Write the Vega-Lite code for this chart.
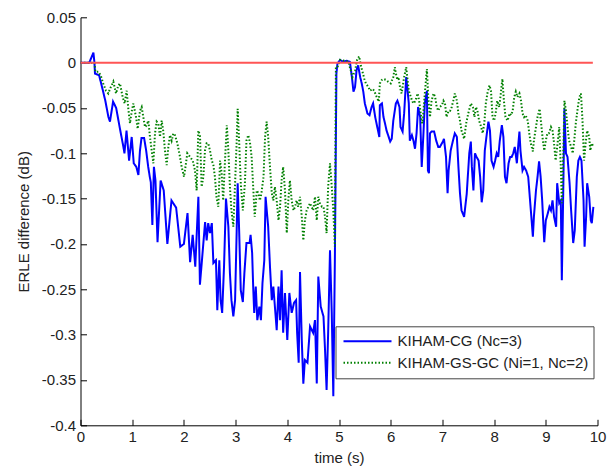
{
  "$schema": "https://vega.github.io/schema/vega-lite/v6.json",
  "width": 517,
  "height": 408,
  "autosize": "none",
  "padding": {"left": 80.5, "top": 17.3, "right": 11.5, "bottom": 42.7},
  "background": "white",
  "config": {
    "view": {"stroke": null},
    "font": "Liberation Sans",
    "axis": {
      "grid": false,
      "domainColor": "#000",
      "domainWidth": 1,
      "tickColor": "#000",
      "tickSize": -6,
      "labelFont": "Liberation Sans",
      "labelFontSize": 15,
      "labelColor": "#222",
      "titleFont": "Liberation Sans",
      "titleFontSize": 15,
      "titleFontWeight": "normal",
      "titleColor": "#222"
    }
  },
  "layer": [
    {
      "data": {"values": [
        {"t":0,"v":0,"s":"CG"},{"t":0.17,"v":0,"s":"CG"},{"t":0.25,"v":0.011,"s":"CG"},{"t":0.27,"v":0,"s":"CG"},{"t":0.28,"v":-0.012,"s":"CG"},{"t":0.36,"v":-0.014,"s":"CG"},{"t":0.43,"v":-0.03,"s":"CG"},{"t":0.48,"v":-0.042,"s":"CG"},{"t":0.54,"v":-0.06,"s":"CG"},{"t":0.57,"v":-0.065,"s":"CG"},{"t":0.63,"v":-0.043,"s":"CG"},{"t":0.69,"v":-0.05,"s":"CG"},{"t":0.76,"v":-0.072,"s":"CG"},{"t":0.83,"v":-0.093,"s":"CG"},{"t":0.85,"v":-0.1,"s":"CG"},{"t":0.89,"v":-0.075,"s":"CG"},{"t":0.94,"v":-0.108,"s":"CG"},{"t":0.99,"v":-0.082,"s":"CG"},{"t":1.03,"v":-0.111,"s":"CG"},{"t":1.08,"v":-0.115,"s":"CG"},{"t":1.12,"v":-0.124,"s":"CG"},{"t":1.15,"v":-0.097,"s":"CG"},{"t":1.18,"v":-0.083,"s":"CG"},{"t":1.23,"v":-0.083,"s":"CG"},{"t":1.27,"v":-0.097,"s":"CG"},{"t":1.31,"v":-0.115,"s":"CG"},{"t":1.34,"v":-0.126,"s":"CG"},{"t":1.36,"v":-0.132,"s":"CG"},{"t":1.39,"v":-0.179,"s":"CG"},{"t":1.42,"v":-0.115,"s":"CG"},{"t":1.45,"v":-0.13,"s":"CG"},{"t":1.49,"v":-0.198,"s":"CG"},{"t":1.55,"v":-0.13,"s":"CG"},{"t":1.61,"v":-0.141,"s":"CG"},{"t":1.68,"v":-0.2,"s":"CG"},{"t":1.76,"v":-0.152,"s":"CG"},{"t":1.85,"v":-0.16,"s":"CG"},{"t":1.93,"v":-0.203,"s":"CG"},{"t":2.0,"v":-0.2,"s":"CG"},{"t":2.07,"v":-0.166,"s":"CG"},{"t":2.12,"v":-0.22,"s":"CG"},{"t":2.17,"v":-0.19,"s":"CG"},{"t":2.22,"v":-0.225,"s":"CG"},{"t":2.28,"v":-0.148,"s":"CG"},{"t":2.31,"v":-0.245,"s":"CG"},{"t":2.41,"v":-0.176,"s":"CG"},{"t":2.44,"v":-0.196,"s":"CG"},{"t":2.47,"v":-0.177,"s":"CG"},{"t":2.505,"v":-0.188,"s":"CG"},{"t":2.54,"v":-0.177,"s":"CG"},{"t":2.57,"v":-0.221,"s":"CG"},{"t":2.62,"v":-0.218,"s":"CG"},{"t":2.646,"v":-0.273,"s":"CG"},{"t":2.685,"v":-0.218,"s":"CG"},{"t":2.71,"v":-0.262,"s":"CG"},{"t":2.74,"v":-0.276,"s":"CG"},{"t":2.776,"v":-0.225,"s":"CG"},{"t":2.814,"v":-0.15,"s":"CG"},{"t":2.86,"v":-0.181,"s":"CG"},{"t":2.89,"v":-0.232,"s":"CG"},{"t":2.92,"v":-0.262,"s":"CG"},{"t":2.956,"v":-0.28,"s":"CG"},{"t":2.99,"v":-0.262,"s":"CG"},{"t":3.02,"v":-0.188,"s":"CG"},{"t":3.04,"v":-0.133,"s":"CG"},{"t":3.07,"v":-0.188,"s":"CG"},{"t":3.1,"v":-0.251,"s":"CG"},{"t":3.14,"v":-0.264,"s":"CG"},{"t":3.17,"v":-0.232,"s":"CG"},{"t":3.21,"v":-0.199,"s":"CG"},{"t":3.27,"v":-0.199,"s":"CG"},{"t":3.29,"v":-0.19,"s":"CG"},{"t":3.32,"v":-0.21,"s":"CG"},{"t":3.34,"v":-0.247,"s":"CG"},{"t":3.36,"v":-0.276,"s":"CG"},{"t":3.39,"v":-0.247,"s":"CG"},{"t":3.42,"v":-0.284,"s":"CG"},{"t":3.46,"v":-0.269,"s":"CG"},{"t":3.49,"v":-0.284,"s":"CG"},{"t":3.52,"v":-0.243,"s":"CG"},{"t":3.555,"v":-0.218,"s":"CG"},{"t":3.58,"v":-0.148,"s":"CG"},{"t":3.63,"v":-0.181,"s":"CG"},{"t":3.665,"v":-0.225,"s":"CG"},{"t":3.7,"v":-0.262,"s":"CG"},{"t":3.73,"v":-0.247,"s":"CG"},{"t":3.76,"v":-0.269,"s":"CG"},{"t":3.795,"v":-0.295,"s":"CG"},{"t":3.83,"v":-0.247,"s":"CG"},{"t":3.86,"v":-0.284,"s":"CG"},{"t":3.89,"v":-0.229,"s":"CG"},{"t":3.92,"v":-0.298,"s":"CG"},{"t":3.955,"v":-0.254,"s":"CG"},{"t":4.0,"v":-0.306,"s":"CG"},{"t":4.04,"v":-0.254,"s":"CG"},{"t":4.085,"v":-0.276,"s":"CG"},{"t":4.13,"v":-0.265,"s":"CG"},{"t":4.17,"v":-0.262,"s":"CG"},{"t":4.19,"v":-0.298,"s":"CG"},{"t":4.22,"v":-0.331,"s":"CG"},{"t":4.246,"v":-0.231,"s":"CG"},{"t":4.28,"v":-0.306,"s":"CG"},{"t":4.31,"v":-0.354,"s":"CG"},{"t":4.34,"v":-0.328,"s":"CG"},{"t":4.39,"v":-0.331,"s":"CG"},{"t":4.44,"v":-0.291,"s":"CG"},{"t":4.5,"v":-0.298,"s":"CG"},{"t":4.536,"v":-0.284,"s":"CG"},{"t":4.57,"v":-0.354,"s":"CG"},{"t":4.6,"v":-0.236,"s":"CG"},{"t":4.646,"v":-0.269,"s":"CG"},{"t":4.7,"v":-0.28,"s":"CG"},{"t":4.73,"v":-0.317,"s":"CG"},{"t":4.76,"v":-0.361,"s":"CG"},{"t":4.79,"v":-0.298,"s":"CG"},{"t":4.826,"v":-0.207,"s":"CG"},{"t":4.86,"v":-0.276,"s":"CG"},{"t":4.89,"v":-0.368,"s":"CG"},{"t":4.92,"v":-0.218,"s":"CG"},{"t":4.95,"v":-0.012,"s":"CG"},{"t":4.97,"v":-0.001,"s":"CG"},{"t":5.02,"v":0.003,"s":"CG"},{"t":5.08,"v":0.001,"s":"CG"},{"t":5.15,"v":0.002,"s":"CG"},{"t":5.21,"v":0.001,"s":"CG"},{"t":5.25,"v":-0.016,"s":"CG"},{"t":5.28,"v":-0.032,"s":"CG"},{"t":5.31,"v":-0.027,"s":"CG"},{"t":5.34,"v":-0.008,"s":"CG"},{"t":5.37,"v":-0.003,"s":"CG"},{"t":5.41,"v":-0.016,"s":"CG"},{"t":5.44,"v":-0.023,"s":"CG"},{"t":5.47,"v":-0.032,"s":"CG"},{"t":5.5,"v":-0.045,"s":"CG"},{"t":5.55,"v":-0.056,"s":"CG"},{"t":5.59,"v":-0.058,"s":"CG"},{"t":5.63,"v":-0.049,"s":"CG"},{"t":5.66,"v":-0.045,"s":"CG"},{"t":5.7,"v":-0.06,"s":"CG"},{"t":5.74,"v":-0.071,"s":"CG"},{"t":5.78,"v":-0.082,"s":"CG"},{"t":5.79,"v":-0.047,"s":"CG"},{"t":5.83,"v":-0.045,"s":"CG"},{"t":5.86,"v":-0.06,"s":"CG"},{"t":5.89,"v":-0.067,"s":"CG"},{"t":5.92,"v":-0.075,"s":"CG"},{"t":5.95,"v":-0.08,"s":"CG"},{"t":5.99,"v":-0.087,"s":"CG"},{"t":6.02,"v":-0.084,"s":"CG"},{"t":6.05,"v":-0.064,"s":"CG"},{"t":6.1,"v":-0.045,"s":"CG"},{"t":6.13,"v":-0.042,"s":"CG"},{"t":6.17,"v":-0.049,"s":"CG"},{"t":6.19,"v":-0.071,"s":"CG"},{"t":6.23,"v":-0.076,"s":"CG"},{"t":6.26,"v":-0.056,"s":"CG"},{"t":6.3,"v":-0.016,"s":"CG"},{"t":6.32,"v":-0.027,"s":"CG"},{"t":6.35,"v":-0.045,"s":"CG"},{"t":6.37,"v":-0.086,"s":"CG"},{"t":6.41,"v":-0.08,"s":"CG"},{"t":6.44,"v":-0.086,"s":"CG"},{"t":6.47,"v":-0.095,"s":"CG"},{"t":6.5,"v":-0.078,"s":"CG"},{"t":6.53,"v":-0.049,"s":"CG"},{"t":6.57,"v":-0.06,"s":"CG"},{"t":6.6,"v":-0.115,"s":"CG"},{"t":6.63,"v":-0.082,"s":"CG"},{"t":6.66,"v":-0.045,"s":"CG"},{"t":6.7,"v":-0.031,"s":"CG"},{"t":6.72,"v":-0.119,"s":"CG"},{"t":6.74,"v":-0.122,"s":"CG"},{"t":6.76,"v":-0.078,"s":"CG"},{"t":6.79,"v":-0.076,"s":"CG"},{"t":6.84,"v":-0.076,"s":"CG"},{"t":6.88,"v":-0.086,"s":"CG"},{"t":6.92,"v":-0.093,"s":"CG"},{"t":6.95,"v":-0.093,"s":"CG"},{"t":7.01,"v":-0.087,"s":"CG"},{"t":7.03,"v":-0.084,"s":"CG"},{"t":7.07,"v":-0.104,"s":"CG"},{"t":7.1,"v":-0.144,"s":"CG"},{"t":7.12,"v":-0.119,"s":"CG"},{"t":7.16,"v":-0.097,"s":"CG"},{"t":7.2,"v":-0.087,"s":"CG"},{"t":7.24,"v":-0.078,"s":"CG"},{"t":7.28,"v":-0.082,"s":"CG"},{"t":7.31,"v":-0.115,"s":"CG"},{"t":7.34,"v":-0.144,"s":"CG"},{"t":7.37,"v":-0.163,"s":"CG"},{"t":7.42,"v":-0.17,"s":"CG"},{"t":7.47,"v":-0.145,"s":"CG"},{"t":7.52,"v":-0.1,"s":"CG"},{"t":7.55,"v":-0.087,"s":"CG"},{"t":7.57,"v":-0.115,"s":"CG"},{"t":7.6,"v":-0.141,"s":"CG"},{"t":7.63,"v":-0.1,"s":"CG"},{"t":7.66,"v":-0.104,"s":"CG"},{"t":7.7,"v":-0.108,"s":"CG"},{"t":7.73,"v":-0.126,"s":"CG"},{"t":7.76,"v":-0.154,"s":"CG"},{"t":7.79,"v":-0.141,"s":"CG"},{"t":7.82,"v":-0.097,"s":"CG"},{"t":7.86,"v":-0.078,"s":"CG"},{"t":7.89,"v":-0.065,"s":"CG"},{"t":7.92,"v":-0.075,"s":"CG"},{"t":7.95,"v":-0.108,"s":"CG"},{"t":7.99,"v":-0.115,"s":"CG"},{"t":8.02,"v":-0.108,"s":"CG"},{"t":8.05,"v":-0.1,"s":"CG"},{"t":8.08,"v":-0.104,"s":"CG"},{"t":8.11,"v":-0.086,"s":"CG"},{"t":8.15,"v":-0.069,"s":"CG"},{"t":8.18,"v":-0.082,"s":"CG"},{"t":8.21,"v":-0.126,"s":"CG"},{"t":8.24,"v":-0.133,"s":"CG"},{"t":8.28,"v":-0.111,"s":"CG"},{"t":8.31,"v":-0.104,"s":"CG"},{"t":8.34,"v":-0.104,"s":"CG"},{"t":8.37,"v":-0.1,"s":"CG"},{"t":8.4,"v":-0.093,"s":"CG"},{"t":8.44,"v":-0.111,"s":"CG"},{"t":8.47,"v":-0.089,"s":"CG"},{"t":8.49,"v":-0.076,"s":"CG"},{"t":8.51,"v":-0.097,"s":"CG"},{"t":8.55,"v":-0.119,"s":"CG"},{"t":8.58,"v":-0.115,"s":"CG"},{"t":8.62,"v":-0.119,"s":"CG"},{"t":8.66,"v":-0.126,"s":"CG"},{"t":8.69,"v":-0.148,"s":"CG"},{"t":8.73,"v":-0.177,"s":"CG"},{"t":8.75,"v":-0.192,"s":"CG"},{"t":8.77,"v":-0.17,"s":"CG"},{"t":8.81,"v":-0.141,"s":"CG"},{"t":8.84,"v":-0.126,"s":"CG"},{"t":8.87,"v":-0.109,"s":"CG"},{"t":8.9,"v":-0.126,"s":"CG"},{"t":8.93,"v":-0.152,"s":"CG"},{"t":8.97,"v":-0.198,"s":"CG"},{"t":9.0,"v":-0.174,"s":"CG"},{"t":9.04,"v":-0.166,"s":"CG"},{"t":9.07,"v":-0.159,"s":"CG"},{"t":9.1,"v":-0.163,"s":"CG"},{"t":9.13,"v":-0.152,"s":"CG"},{"t":9.16,"v":-0.17,"s":"CG"},{"t":9.2,"v":-0.181,"s":"CG"},{"t":9.22,"v":-0.133,"s":"CG"},{"t":9.26,"v":-0.155,"s":"CG"},{"t":9.29,"v":-0.152,"s":"CG"},{"t":9.31,"v":-0.24,"s":"CG"},{"t":9.34,"v":-0.133,"s":"CG"},{"t":9.36,"v":-0.051,"s":"CG"},{"t":9.39,"v":-0.1,"s":"CG"},{"t":9.42,"v":-0.104,"s":"CG"},{"t":9.46,"v":-0.133,"s":"CG"},{"t":9.49,"v":-0.163,"s":"CG"},{"t":9.53,"v":-0.199,"s":"CG"},{"t":9.56,"v":-0.185,"s":"CG"},{"t":9.6,"v":-0.126,"s":"CG"},{"t":9.63,"v":-0.108,"s":"CG"},{"t":9.66,"v":-0.104,"s":"CG"},{"t":9.69,"v":-0.108,"s":"CG"},{"t":9.73,"v":-0.152,"s":"CG"},{"t":9.75,"v":-0.203,"s":"CG"},{"t":9.78,"v":-0.17,"s":"CG"},{"t":9.8,"v":-0.133,"s":"CG"},{"t":9.84,"v":-0.148,"s":"CG"},{"t":9.87,"v":-0.174,"s":"CG"},{"t":9.89,"v":-0.177,"s":"CG"},{"t":9.92,"v":-0.159,"s":"CG"},
        {"t":0,"v":0,"s":"GC"},{"t":0.27,"v":0,"s":"GC"},{"t":0.287,"v":-0.01,"s":"GC"},{"t":0.345,"v":-0.01,"s":"GC"},{"t":0.39,"v":-0.014,"s":"GC"},{"t":0.44,"v":-0.023,"s":"GC"},{"t":0.493,"v":-0.031,"s":"GC"},{"t":0.538,"v":-0.034,"s":"GC"},{"t":0.57,"v":-0.029,"s":"GC"},{"t":0.603,"v":-0.025,"s":"GC"},{"t":0.635,"v":-0.021,"s":"GC"},{"t":0.687,"v":-0.034,"s":"GC"},{"t":0.732,"v":-0.025,"s":"GC"},{"t":0.764,"v":-0.023,"s":"GC"},{"t":0.816,"v":-0.038,"s":"GC"},{"t":0.854,"v":-0.045,"s":"GC"},{"t":0.893,"v":-0.031,"s":"GC"},{"t":0.925,"v":-0.051,"s":"GC"},{"t":0.957,"v":-0.067,"s":"GC"},{"t":0.99,"v":-0.054,"s":"GC"},{"t":1.022,"v":-0.045,"s":"GC"},{"t":1.074,"v":-0.06,"s":"GC"},{"t":1.106,"v":-0.073,"s":"GC"},{"t":1.151,"v":-0.053,"s":"GC"},{"t":1.183,"v":-0.049,"s":"GC"},{"t":1.215,"v":-0.06,"s":"GC"},{"t":1.248,"v":-0.071,"s":"GC"},{"t":1.28,"v":-0.069,"s":"GC"},{"t":1.312,"v":-0.064,"s":"GC"},{"t":1.344,"v":-0.082,"s":"GC"},{"t":1.377,"v":-0.097,"s":"GC"},{"t":1.409,"v":-0.111,"s":"GC"},{"t":1.441,"v":-0.078,"s":"GC"},{"t":1.473,"v":-0.065,"s":"GC"},{"t":1.505,"v":-0.067,"s":"GC"},{"t":1.538,"v":-0.082,"s":"GC"},{"t":1.57,"v":-0.064,"s":"GC"},{"t":1.602,"v":-0.076,"s":"GC"},{"t":1.634,"v":-0.097,"s":"GC"},{"t":1.667,"v":-0.113,"s":"GC"},{"t":1.699,"v":-0.093,"s":"GC"},{"t":1.731,"v":-0.08,"s":"GC"},{"t":1.763,"v":-0.086,"s":"GC"},{"t":1.796,"v":-0.078,"s":"GC"},{"t":1.828,"v":-0.08,"s":"GC"},{"t":1.873,"v":-0.089,"s":"GC"},{"t":1.912,"v":-0.1,"s":"GC"},{"t":1.957,"v":-0.115,"s":"GC"},{"t":2.002,"v":-0.126,"s":"GC"},{"t":2.04,"v":-0.111,"s":"GC"},{"t":2.066,"v":-0.1,"s":"GC"},{"t":2.118,"v":-0.104,"s":"GC"},{"t":2.17,"v":-0.108,"s":"GC"},{"t":2.215,"v":-0.119,"s":"GC"},{"t":2.247,"v":-0.141,"s":"GC"},{"t":2.279,"v":-0.075,"s":"GC"},{"t":2.311,"v":-0.08,"s":"GC"},{"t":2.343,"v":-0.137,"s":"GC"},{"t":2.376,"v":-0.126,"s":"GC"},{"t":2.408,"v":-0.097,"s":"GC"},{"t":2.44,"v":-0.089,"s":"GC"},{"t":2.47,"v":-0.089,"s":"GC"},{"t":2.505,"v":-0.097,"s":"GC"},{"t":2.54,"v":-0.108,"s":"GC"},{"t":2.57,"v":-0.113,"s":"GC"},{"t":2.6,"v":-0.126,"s":"GC"},{"t":2.63,"v":-0.148,"s":"GC"},{"t":2.665,"v":-0.159,"s":"GC"},{"t":2.7,"v":-0.108,"s":"GC"},{"t":2.73,"v":-0.122,"s":"GC"},{"t":2.76,"v":-0.152,"s":"GC"},{"t":2.795,"v":-0.108,"s":"GC"},{"t":2.83,"v":-0.069,"s":"GC"},{"t":2.86,"v":-0.097,"s":"GC"},{"t":2.89,"v":-0.137,"s":"GC"},{"t":2.92,"v":-0.163,"s":"GC"},{"t":2.956,"v":-0.181,"s":"GC"},{"t":2.99,"v":-0.133,"s":"GC"},{"t":3.02,"v":-0.089,"s":"GC"},{"t":3.04,"v":-0.051,"s":"GC"},{"t":3.07,"v":-0.089,"s":"GC"},{"t":3.1,"v":-0.133,"s":"GC"},{"t":3.14,"v":-0.163,"s":"GC"},{"t":3.18,"v":-0.133,"s":"GC"},{"t":3.21,"v":-0.086,"s":"GC"},{"t":3.245,"v":-0.08,"s":"GC"},{"t":3.28,"v":-0.089,"s":"GC"},{"t":3.31,"v":-0.104,"s":"GC"},{"t":3.34,"v":-0.137,"s":"GC"},{"t":3.37,"v":-0.17,"s":"GC"},{"t":3.41,"v":-0.141,"s":"GC"},{"t":3.44,"v":-0.144,"s":"GC"},{"t":3.47,"v":-0.152,"s":"GC"},{"t":3.5,"v":-0.144,"s":"GC"},{"t":3.54,"v":-0.126,"s":"GC"},{"t":3.57,"v":-0.082,"s":"GC"},{"t":3.6,"v":-0.065,"s":"GC"},{"t":3.63,"v":-0.082,"s":"GC"},{"t":3.665,"v":-0.115,"s":"GC"},{"t":3.7,"v":-0.144,"s":"GC"},{"t":3.73,"v":-0.152,"s":"GC"},{"t":3.76,"v":-0.137,"s":"GC"},{"t":3.795,"v":-0.152,"s":"GC"},{"t":3.83,"v":-0.174,"s":"GC"},{"t":3.86,"v":-0.159,"s":"GC"},{"t":3.89,"v":-0.13,"s":"GC"},{"t":3.92,"v":-0.115,"s":"GC"},{"t":3.955,"v":-0.141,"s":"GC"},{"t":3.99,"v":-0.188,"s":"GC"},{"t":4.02,"v":-0.152,"s":"GC"},{"t":4.05,"v":-0.13,"s":"GC"},{"t":4.085,"v":-0.152,"s":"GC"},{"t":4.12,"v":-0.163,"s":"GC"},{"t":4.15,"v":-0.159,"s":"GC"},{"t":4.18,"v":-0.152,"s":"GC"},{"t":4.21,"v":-0.159,"s":"GC"},{"t":4.246,"v":-0.148,"s":"GC"},{"t":4.28,"v":-0.17,"s":"GC"},{"t":4.31,"v":-0.196,"s":"GC"},{"t":4.34,"v":-0.174,"s":"GC"},{"t":4.375,"v":-0.163,"s":"GC"},{"t":4.44,"v":-0.155,"s":"GC"},{"t":4.5,"v":-0.163,"s":"GC"},{"t":4.536,"v":-0.148,"s":"GC"},{"t":4.57,"v":-0.174,"s":"GC"},{"t":4.6,"v":-0.148,"s":"GC"},{"t":4.63,"v":-0.155,"s":"GC"},{"t":4.67,"v":-0.159,"s":"GC"},{"t":4.7,"v":-0.159,"s":"GC"},{"t":4.73,"v":-0.17,"s":"GC"},{"t":4.76,"v":-0.188,"s":"GC"},{"t":4.79,"v":-0.137,"s":"GC"},{"t":4.826,"v":-0.111,"s":"GC"},{"t":4.86,"v":-0.137,"s":"GC"},{"t":4.89,"v":-0.163,"s":"GC"},{"t":4.92,"v":-0.203,"s":"GC"},{"t":4.94,"v":-0.005,"s":"GC"},{"t":4.97,"v":-0.005,"s":"GC"},{"t":5.02,"v":0.003,"s":"GC"},{"t":5.11,"v":0.002,"s":"GC"},{"t":5.18,"v":0.001,"s":"GC"},{"t":5.23,"v":-0.009,"s":"GC"},{"t":5.26,"v":-0.016,"s":"GC"},{"t":5.31,"v":-0.009,"s":"GC"},{"t":5.35,"v":0.003,"s":"GC"},{"t":5.39,"v":0.007,"s":"GC"},{"t":5.42,"v":-0.003,"s":"GC"},{"t":5.45,"v":-0.009,"s":"GC"},{"t":5.49,"v":-0.018,"s":"GC"},{"t":5.52,"v":-0.023,"s":"GC"},{"t":5.57,"v":-0.027,"s":"GC"},{"t":5.6,"v":-0.031,"s":"GC"},{"t":5.65,"v":-0.029,"s":"GC"},{"t":5.68,"v":-0.031,"s":"GC"},{"t":5.73,"v":-0.038,"s":"GC"},{"t":5.77,"v":-0.043,"s":"GC"},{"t":5.79,"v":-0.023,"s":"GC"},{"t":5.83,"v":-0.019,"s":"GC"},{"t":5.86,"v":-0.018,"s":"GC"},{"t":5.91,"v":-0.019,"s":"GC"},{"t":5.95,"v":-0.021,"s":"GC"},{"t":6.0,"v":-0.023,"s":"GC"},{"t":6.05,"v":-0.016,"s":"GC"},{"t":6.08,"v":-0.005,"s":"GC"},{"t":6.1,"v":-0.012,"s":"GC"},{"t":6.13,"v":-0.019,"s":"GC"},{"t":6.15,"v":-0.016,"s":"GC"},{"t":6.18,"v":-0.027,"s":"GC"},{"t":6.21,"v":-0.034,"s":"GC"},{"t":6.26,"v":-0.016,"s":"GC"},{"t":6.3,"v":-0.005,"s":"GC"},{"t":6.32,"v":-0.016,"s":"GC"},{"t":6.35,"v":-0.031,"s":"GC"},{"t":6.39,"v":-0.038,"s":"GC"},{"t":6.42,"v":-0.043,"s":"GC"},{"t":6.45,"v":-0.045,"s":"GC"},{"t":6.49,"v":-0.04,"s":"GC"},{"t":6.52,"v":-0.034,"s":"GC"},{"t":6.55,"v":-0.042,"s":"GC"},{"t":6.58,"v":-0.056,"s":"GC"},{"t":6.61,"v":-0.067,"s":"GC"},{"t":6.63,"v":-0.056,"s":"GC"},{"t":6.66,"v":-0.034,"s":"GC"},{"t":6.7,"v":-0.007,"s":"GC"},{"t":6.73,"v":-0.042,"s":"GC"},{"t":6.76,"v":-0.06,"s":"GC"},{"t":6.79,"v":-0.042,"s":"GC"},{"t":6.83,"v":-0.034,"s":"GC"},{"t":6.86,"v":-0.038,"s":"GC"},{"t":6.89,"v":-0.049,"s":"GC"},{"t":6.92,"v":-0.053,"s":"GC"},{"t":6.95,"v":-0.049,"s":"GC"},{"t":6.99,"v":-0.047,"s":"GC"},{"t":7.02,"v":-0.042,"s":"GC"},{"t":7.05,"v":-0.045,"s":"GC"},{"t":7.08,"v":-0.06,"s":"GC"},{"t":7.12,"v":-0.053,"s":"GC"},{"t":7.15,"v":-0.053,"s":"GC"},{"t":7.18,"v":-0.049,"s":"GC"},{"t":7.21,"v":-0.042,"s":"GC"},{"t":7.24,"v":-0.034,"s":"GC"},{"t":7.28,"v":-0.042,"s":"GC"},{"t":7.31,"v":-0.056,"s":"GC"},{"t":7.34,"v":-0.064,"s":"GC"},{"t":7.37,"v":-0.075,"s":"GC"},{"t":7.42,"v":-0.084,"s":"GC"},{"t":7.46,"v":-0.067,"s":"GC"},{"t":7.5,"v":-0.056,"s":"GC"},{"t":7.55,"v":-0.045,"s":"GC"},{"t":7.59,"v":-0.049,"s":"GC"},{"t":7.62,"v":-0.06,"s":"GC"},{"t":7.65,"v":-0.049,"s":"GC"},{"t":7.68,"v":-0.054,"s":"GC"},{"t":7.71,"v":-0.064,"s":"GC"},{"t":7.75,"v":-0.071,"s":"GC"},{"t":7.78,"v":-0.078,"s":"GC"},{"t":7.81,"v":-0.067,"s":"GC"},{"t":7.84,"v":-0.045,"s":"GC"},{"t":7.87,"v":-0.034,"s":"GC"},{"t":7.91,"v":-0.025,"s":"GC"},{"t":7.94,"v":-0.031,"s":"GC"},{"t":7.97,"v":-0.06,"s":"GC"},{"t":8.0,"v":-0.064,"s":"GC"},{"t":8.03,"v":-0.056,"s":"GC"},{"t":8.06,"v":-0.042,"s":"GC"},{"t":8.1,"v":-0.049,"s":"GC"},{"t":8.13,"v":-0.034,"s":"GC"},{"t":8.16,"v":-0.018,"s":"GC"},{"t":8.19,"v":-0.042,"s":"GC"},{"t":8.22,"v":-0.06,"s":"GC"},{"t":8.26,"v":-0.064,"s":"GC"},{"t":8.3,"v":-0.056,"s":"GC"},{"t":8.33,"v":-0.058,"s":"GC"},{"t":8.36,"v":-0.053,"s":"GC"},{"t":8.39,"v":-0.038,"s":"GC"},{"t":8.42,"v":-0.032,"s":"GC"},{"t":8.45,"v":-0.038,"s":"GC"},{"t":8.49,"v":-0.034,"s":"GC"},{"t":8.52,"v":-0.042,"s":"GC"},{"t":8.55,"v":-0.056,"s":"GC"},{"t":8.58,"v":-0.06,"s":"GC"},{"t":8.61,"v":-0.058,"s":"GC"},{"t":8.65,"v":-0.064,"s":"GC"},{"t":8.68,"v":-0.078,"s":"GC"},{"t":8.71,"v":-0.089,"s":"GC"},{"t":8.75,"v":-0.098,"s":"GC"},{"t":8.77,"v":-0.086,"s":"GC"},{"t":8.81,"v":-0.071,"s":"GC"},{"t":8.84,"v":-0.06,"s":"GC"},{"t":8.88,"v":-0.051,"s":"GC"},{"t":8.91,"v":-0.067,"s":"GC"},{"t":8.94,"v":-0.084,"s":"GC"},{"t":8.97,"v":-0.097,"s":"GC"},{"t":9.0,"v":-0.086,"s":"GC"},{"t":9.03,"v":-0.078,"s":"GC"},{"t":9.06,"v":-0.078,"s":"GC"},{"t":9.1,"v":-0.071,"s":"GC"},{"t":9.13,"v":-0.075,"s":"GC"},{"t":9.16,"v":-0.089,"s":"GC"},{"t":9.19,"v":-0.108,"s":"GC"},{"t":9.22,"v":-0.093,"s":"GC"},{"t":9.26,"v":-0.071,"s":"GC"},{"t":9.29,"v":-0.115,"s":"GC"},{"t":9.31,"v":-0.155,"s":"GC"},{"t":9.34,"v":-0.097,"s":"GC"},{"t":9.36,"v":-0.042,"s":"GC"},{"t":9.39,"v":-0.053,"s":"GC"},{"t":9.42,"v":-0.071,"s":"GC"},{"t":9.45,"v":-0.086,"s":"GC"},{"t":9.49,"v":-0.093,"s":"GC"},{"t":9.52,"v":-0.1,"s":"GC"},{"t":9.55,"v":-0.086,"s":"GC"},{"t":9.58,"v":-0.067,"s":"GC"},{"t":9.62,"v":-0.049,"s":"GC"},{"t":9.65,"v":-0.038,"s":"GC"},{"t":9.68,"v":-0.034,"s":"GC"},{"t":9.71,"v":-0.064,"s":"GC"},{"t":9.74,"v":-0.108,"s":"GC"},{"t":9.77,"v":-0.089,"s":"GC"},{"t":9.8,"v":-0.075,"s":"GC"},{"t":9.84,"v":-0.082,"s":"GC"},{"t":9.86,"v":-0.097,"s":"GC"},{"t":9.89,"v":-0.089,"s":"GC"},{"t":9.92,"v":-0.093,"s":"GC"}
      ]},
      "mark": {"type": "line", "strokeWidth": 2, "strokeCap": "butt", "strokeJoin": "miter"},
      "encoding": {
        "x": {
          "field": "t", "type": "quantitative",
          "scale": {"domain": [0, 10], "nice": false, "zero": false},
          "axis": {"values": [0,1,2,3,4,5,6,7,8,9,10], "title": "time (s)", "labelPadding": 10, "titlePadding": 6, "labelFlush": false}
        },
        "y": {
          "field": "v", "type": "quantitative",
          "scale": {"domain": [-0.4, 0.05], "nice": false, "zero": false},
          "axis": {
            "values": [-0.4,-0.35,-0.3,-0.25,-0.2,-0.15,-0.1,-0.05,0,0.05],
            "labelExpr": "datum.value < -0.0001 ? '-' + format(-datum.value, '.2~f') : format(abs(datum.value), '.2~f')",
            "title": "ERLE difference (dB)", "labelPadding": 11, "titlePadding": 10, "labelFlush": false
          }
        },
        "color": {
          "field": "s", "type": "nominal",
          "scale": {"domain": ["CG", "GC"], "range": ["#0000ff", "#008000"]},
          "legend": {
            "title": null,
            "orient": "none",
            "legendX": 255,
            "legendY": 309,
            "labelExpr": "datum.label == 'CG' ? 'KIHAM-CG (Nc=3)' : 'KIHAM-GS-GC (Ni=1, Nc=2)'",
            "labelLimit": 0,
            "symbolType": "stroke",
            "symbolSize": 2304,
            "symbolStrokeWidth": 2,
            "clipHeight": 20,
            "rowPadding": 1.5,
            "padding": 5,
            "symbolOffset": 2,
            "labelOffset": 5,
            "labelFont": "Liberation Sans",
            "labelFontSize": 15,
            "labelColor": "#222",
            "strokeColor": "#444",
            "fillColor": "white"
          }
        },
        "strokeDash": {
          "field": "s", "type": "nominal",
          "scale": {"domain": ["CG", "GC"], "range": [[1, 0], [1.5, 2]]},
          "legend": null
        }
      }
    },
    {
      "data": {"values": [{"t": 0, "v": 0}, {"t": 9.91, "v": 0}]},
      "mark": {"type": "line", "color": "#ff5555", "strokeWidth": 2},
      "encoding": {
        "x": {"field": "t", "type": "quantitative"},
        "y": {"field": "v", "type": "quantitative"}
      }
    }
  ]
}
